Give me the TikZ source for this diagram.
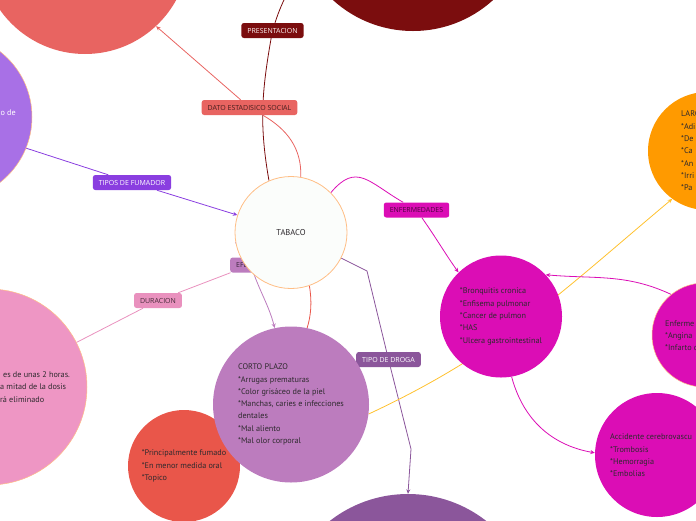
\documentclass[tikz,border=0pt]{standalone}
\usepackage{fontspec}
\setmainfont{PT Sans}
\newfontfamily\tagfont{Open Sans}
\usetikzlibrary{arrows.meta, positioning}
\pgfdeclarelayer{bg}
\pgfsetlayers{bg,main}

\definecolor{cSalmon}{HTML}{E86461}
\definecolor{cMaroon}{HTML}{7B0D0E}
\definecolor{cViolet}{HTML}{A870E6}
\definecolor{cFumador}{HTML}{8A3EE0}
\definecolor{cMagenta}{HTML}{DB0DB5}
\definecolor{cOrange}{HTML}{FF9A00}
\definecolor{cYellow}{HTML}{FFC12E}
\definecolor{cPink}{HTML}{EE96C4}
\definecolor{cDuracion}{HTML}{E991BE}
\definecolor{cLilac}{HTML}{BC7CBE}
\definecolor{cRed}{HTML}{E9564A}
\definecolor{cPlum}{HTML}{8B569B}
\definecolor{cRim}{HTML}{FFBE85}
\definecolor{cInk}{HTML}{2E2A2E}
\definecolor{cCore}{HTML}{FBFDFB}

\begin{document}
\begin{tikzpicture}[
    x=1pt, y=1pt,
    >={Stealth[length=4.5pt, width=4pt]},
    tag/.style={rounded corners=2.5pt, minimum height=15pt, inner xsep=6pt,
                inner ysep=0pt, font=\tagfont\fontsize{7}{8}\selectfont},
    bubble/.style={circle, inner sep=0pt, align=left, text=cInk,
                   font=\fontsize{8.2}{12.3}\selectfont},
    blurb/.style={inner sep=0pt, align=left, text=cInk,
                  font=\fontsize{8.2}{12.3}\selectfont},
    link/.style={line width=0.8pt, ->}
  ]
  \useasboundingbox (0,0) rectangle (696,-520);
  \clip (0,0) rectangle (696,-520);

  % big circles at the edges
  \node[bubble, fill=cSalmon, minimum size=208pt] (salmon) at (85,50) {};
  \node[bubble, fill=cMaroon, minimum size=238pt] (maroon) at (413,88) {};
  \node[bubble, fill=cViolet, draw=cRim, line width=0.5pt,
        minimum size=166pt] (smoker) at (-51,-117) {};
  \node[blurb, text=white, anchor=east] (smokertxt) at (16,-113) {o de};
  \node[bubble, fill=cPink, draw=cRim, line width=0.5pt,
        minimum size=196pt] (halflife) at (-11,-387) {};
  \node[blurb, anchor=west] (halftxt) at (0,-387)
    {\hspace*{3pt}es de unas 2 horas.\\a mitad de la dosis\\rá eliminado};

  % labels
  \node[tag, fill=cMaroon, text=white!92!cSalmon] (pres) at (272.5,-30.5) {PRESENTACION};
  \node[tag, fill=cSalmon, text=cSalmon!30!black] (dato) at (249.5,-107.5) {DATO ESTADISICO SOCIAL};
  \node[tag, fill=cFumador, text=white] (fumador) at (132,-182.5) {TIPOS DE FUMADOR};
  \node[tag, fill=cMagenta, text=cMagenta!35!black] (enferm) at (416.5,-210) {ENFERMEDADES};
  \node[tag, fill=cLilac, text=cLilac!30!black, anchor=west] (efectos) at (230,-265) {EFECTOS};
  \node[tag, fill=cDuracion, text=cDuracion!30!black] (duracion) at (158,-300.5) {DURACION};
  \node[tag, fill=cPlum, text=white] (droga) at (388.5,-359.5) {TIPO DE DROGA};

  % centre
  \node[bubble, fill=cCore, draw=cRim, line width=0.8pt, minimum size=112pt,
        font=\fontsize{8.5}{9}\selectfont] (tabaco) at (291,-232.5) {TABACO};

  % inner circles
  \node[bubble, fill=cRed, minimum size=112pt] (route) at (184,-466)
    {*Principalmente fumado\\*En menor medida oral\\*Topico};
  \node[bubble, fill=cLilac, minimum size=156pt] (corto) at (291,-404.5)
    {CORTO PLAZO\\*Arrugas prematuras\\*Color grisáceo de la piel\\
     *Manchas, caries e infecciones\\dentales\\*Mal aliento\\*Mal olor corporal};
  \node[bubble, fill=cMagenta, minimum size=122pt] (bronq) at (501,-316.5)
    {*Bronquitis cronica\\*Enfisema pulmonar\\*Cancer de pulmon\\*HAS\\
     *Ulcera gastrointestinal};
  \node[bubble, fill=cOrange, minimum size=118pt] (largo) at (707,-151) {};
  \node[blurb, anchor=west] (largotxt) at (681,-151)
    {LARG\\*Adi\\*De\\*Ca\\*An\\*Irri\\*Pa};
  \node[bubble, fill=cMagenta, draw=cRim, line width=0.5pt,
        minimum size=104pt] (cardio) at (704,-335) {};
  \node[blurb, anchor=west] (cardiotxt) at (665,-335.5)
    {Enferme\\*Angina\\*Infarto d};
  \node[bubble, fill=cMagenta, minimum size=124pt] (acv) at (657,-455) {};
  \node[blurb, anchor=west] (acvtxt) at (610,-455.5)
    {Accidente cerebrovascu\\*Trombosis\\*Hemorragia\\*Embolias};
  \node[bubble, fill=cPlum, minimum size=254pt] (kinds) at (408,-621) {};

  % connectors behind everything
  \coordinate (k1) at (367,-271);
  \coordinate (k2) at (411,-449);
  \begin{pgfonlayer}{bg}
    \clip (0,0) rectangle (696,-520);
    \draw[link, cMaroon] (tabaco.113) to[out=100, in=-100] (pres)
      to[out=72, in=-120] (maroon.205);
    \draw[link, cSalmon] (tabaco.80) to[out=88, in=-30] (dato) -- (salmon.-47);
    \draw[link, cFumador] (smoker.-22) -- (fumador) -- (tabaco.162);
    \draw[link, cMagenta] (tabaco.45) to[out=50, in=150, looseness=1.4] (enferm)
      to[out=-55, in=125] (bronq.134);
    \draw[line width=0.8pt, cLilac] (tabaco.190) -- (efectos);
    \draw[link, cLilac] (efectos) to[out=-70, in=105] (corto.102);
    \draw[line width=0.8pt, cDuracion] (efectos) -- (duracion) -- (halflife.27);
    \draw[link, cRed] (tabaco.-71) to[out=-80, in=45] (route.45);
    \draw[link, cPlum] (tabaco.-27) -- (k1) -- (droga) -- (k2) -- (kinds.north);
    \draw[link, cYellow] (corto.-7) to[out=25, in=-140] (largo.234);
    \draw[link, cMagenta] (bronq.-80) to[out=-75, in=170] (acv.178);
    \draw[link, cMagenta] (cardio.129) to[out=155, in=-5] (bronq.43);
  \end{pgfonlayer}
\end{tikzpicture}
\end{document}
